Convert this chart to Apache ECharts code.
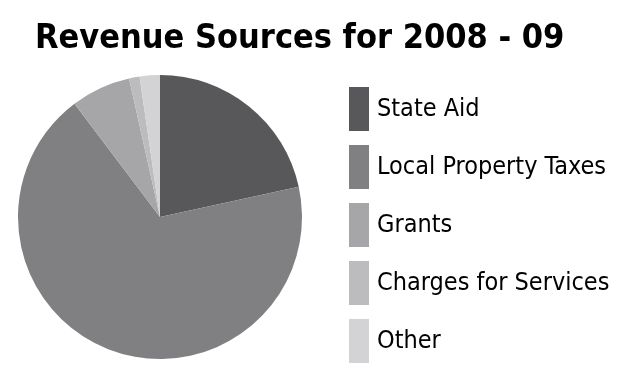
<!DOCTYPE html>
<html>
<head>
<meta charset="utf-8">
<script src="https://cdn.jsdelivr.net/npm/echarts@6/dist/echarts.min.js"></script>
<style>html,body{margin:0;padding:0;background:#fff}#c{width:640px;height:383px}</style>
</head>
<body>
<div id="c"></div>
<script>
const categories = ['State Aid', 'Local Property Taxes', 'Grants', 'Charges for Services', 'Other'];
const values = [21.6, 68.2, 6.8, 1.2, 2.3];
const colors = ['#58585b', '#808083', '#a6a6a8', '#bcbcbe', '#d3d3d5'];

const FONT = "'Liberation Sans Narrow', 'DejaVu Sans Condensed', sans-serif";
const chart = echarts.init(document.getElementById('c'), null, {renderer: 'canvas'});
chart.setOption({
  animation: false,
  backgroundColor: '#ffffff',
  color: colors,
  title: {
    text: 'Revenue Sources for 2008 - 09',
    left: 30, top: 17,
    textStyle: {fontFamily: FONT, fontWeight: 'bold', fontSize: 34, color: '#000'}
  },
  legend: {
    orient: 'vertical',
    left: 349, top: 87,
    padding: 0,
    icon: 'rect',
    itemWidth: 20, itemHeight: 44, itemGap: 14,
    data: categories,
    textStyle: {fontFamily: FONT, fontSize: 25, color: '#000', padding: [0, 0, 0, 3]}
  },
  series: [{
    type: 'pie',
    center: [160, 217],
    radius: 142,
    startAngle: 90,
    clockwise: true,
    label: {show: false},
    labelLine: {show: false},
    itemStyle: {borderWidth: 0},
    emphasis: {disabled: true},
    data: categories.map((n, i) => ({name: n, value: values[i]}))
  }]
});
</script>
</body>
</html>
